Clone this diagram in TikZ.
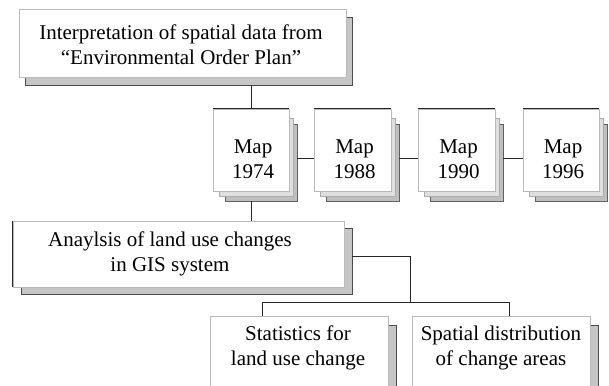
\documentclass[tikz,border=0pt]{standalone}
\usepackage{fontspec}
\setmainfont{Liberation Serif}
\begin{document}
\begin{tikzpicture}[x=1pt,y=-1pt,
  boxf/.style={rectangle, draw=gray!55, fill=white, line width=0.7pt, inner sep=0pt},
  shad/.style={rectangle, draw=gray!60!black, fill=gray!45, line width=0.7pt, inner sep=0pt},
  pageA/.style={rectangle, draw=gray!65, fill=gray!25, line width=0.6pt, inner sep=0pt},
  pageB/.style={rectangle, draw=gray!75!black, fill=gray!50, line width=0.6pt, inner sep=0pt},
  txt/.style={align=center, inner sep=0pt, font=\fontsize{21}{25}\selectfont},
  link/.style={draw=black!85, line width=0.8pt},
  darkedge/.style={draw=black!85, line width=0.9pt}]
\useasboundingbox (0,0) rectangle (609,385);
\clip (0,0) rectangle (609,385);
% top box
\node[shad, minimum width=327pt, minimum height=68pt] (Tsh) at (188.5,51) {};
\node[boxf, minimum width=327pt, minimum height=68pt] (T) at (182.5,43) {};
\node[txt] (Tt) at (181,45) {Interpretation of spatial data from\\“Environmental Order Plan”};
% maps
\foreach \n/\a/\b/\yr in {1/213/289/1974, 2/314/391/1988, 3/418/495/1990, 4/523/599/1996}{
  \pgfmathsetmacro{\cx}{(\a+\b)/2}
  \pgfmathsetmacro{\w}{\b-\a}
  \pgfmathsetmacro{\cxb}{(\a+\b)/2+5}
  \pgfmathsetmacro{\wb}{\b-\a-2}
  \pgfmathsetmacro{\cxc}{(\a+\b)/2+10}
  \pgfmathsetmacro{\wc}{\b-\a-4}
  \pgfmathsetmacro{\tx}{(\a+\b)/2+2}
  \node[pageB, minimum width=\wc pt, minimum height=77pt] (m\n p3) at (\cxc,162.5) {};
  \node[pageA, minimum width=\wb pt, minimum height=78pt] (m\n p2) at (\cxb,157) {};
  \node[boxf, minimum width=\w pt, minimum height=82pt] (m\n) at (\cx,150) {};
  \draw[darkedge] (m\n.north west) -- (m\n.north east);
  \node[txt] (m\n t) at (\tx,159) {Map\\\yr};
}
% analysis box
\node[shad, minimum width=331pt, minimum height=66pt] (Ash) at (186.5,261) {};
\node[boxf, minimum width=331pt, minimum height=66pt] (A) at (178.5,254) {};
\draw[darkedge] (A.north west) -- (A.south west);
\node[txt] (At) at (170,254) {Anaylsis of land use changes\\in GIS system};
% bottom boxes
\node[shad, minimum width=178pt, minimum height=84pt] (S1sh) at (307,367) {};
\node[boxf, minimum width=178pt, minimum height=84pt] (S1) at (299,358) {};
\node[txt] (S1t) at (298,348) {Statistics for\\land use change};
\node[shad, minimum width=178pt, minimum height=84pt] (S2sh) at (509,367) {};
\node[boxf, minimum width=178pt, minimum height=84pt] (S2) at (501,358) {};
\node[txt] (S2t) at (501,348) {Spatial distribution\\of change areas};
% connectors
\coordinate (mrow) at (0,158);
\coordinate (arow) at (0,256);
\coordinate (srow) at (0,302);
\coordinate (jx) at (410,0);
\coordinate (s1x) at (262,0);
\coordinate (s2x) at (509,0);
\draw[link] (m1.north) -- (m1.north |- Tsh.south);
\draw[link] (m1.south |- m1p3.south) -- (m1.south |- A.north);
\draw[link] (m1p3.east |- mrow) -- (m2.west |- mrow);
\draw[link] (m2p3.east |- mrow) -- (m3.west |- mrow);
\draw[link] (m3p3.east |- mrow) -- (m4.west |- mrow);
\draw[link] (Ash.east |- arow) -| (jx |- srow);
\draw[link] (s1x |- S1.north) -- (s1x |- srow) -- (s2x |- srow) -- (s2x |- S2.north);
\end{tikzpicture}
\end{document}
